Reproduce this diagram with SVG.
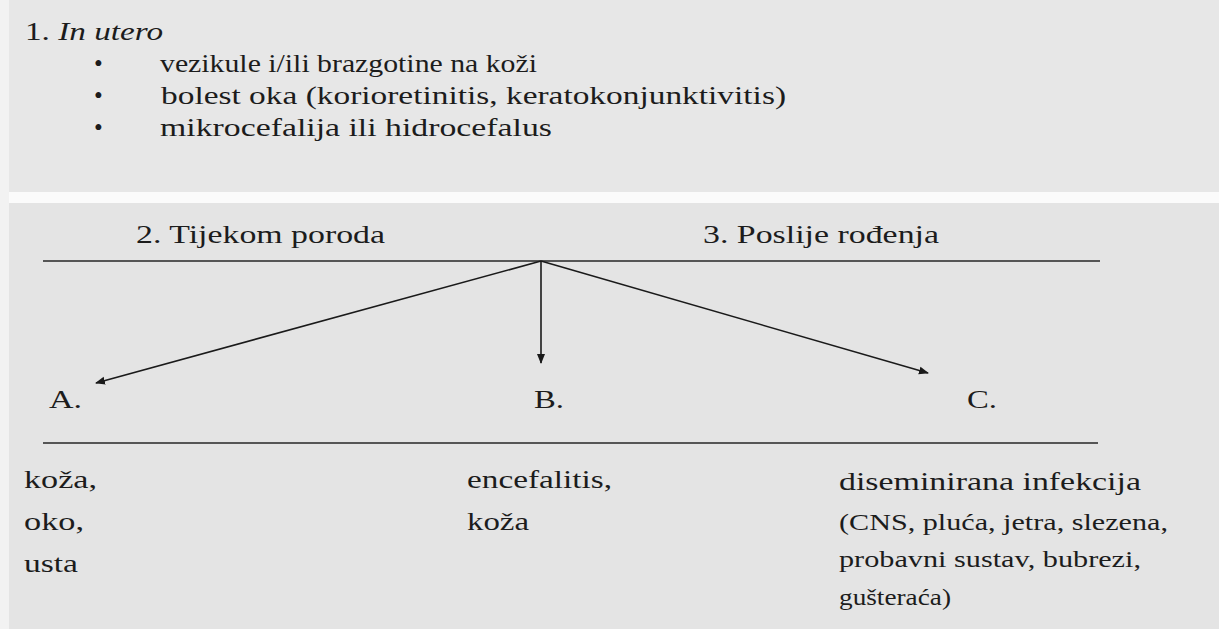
<svg xmlns="http://www.w3.org/2000/svg" width="1219" height="629" viewBox="0 0 1219 629">
<defs>
<marker id="ah" viewBox="0 0 10 10" refX="9" refY="5" markerWidth="10" markerHeight="10" markerUnits="userSpaceOnUse" orient="auto">
<path d="M0,1 L10,5 L0,9 z" fill="#1a1a1a"/>
</marker>
</defs>
<style>
text{font-family:"Liberation Serif","Times New Roman",Tinos,"Noto Serif","DejaVu Serif",FreeSerif,Times,serif;fill:#1c1c1c;font-size:26px}
.top{font-size:25px}
.sm{font-size:23px}
.rule{stroke:#555;stroke-width:2}
.conn{stroke:#1a1a1a;stroke-width:1.6;fill:none}
</style>
<rect x="0" y="0" width="1219" height="629" fill="#e4e4e4"/>
<rect x="0" y="0" width="1219" height="193" fill="#e7e7e7"/>
<rect x="0" y="192" width="1219" height="11" fill="#fbfbfb"/>
<rect x="0" y="0" width="9" height="629" fill="#f2f2f2"/>
<g id="node-utero">
<text class="top" x="25" y="40" textLength="138" lengthAdjust="spacingAndGlyphs">1. <tspan font-style="italic">In utero</tspan></text>
<text class="top" x="94" y="72">•</text>
<text class="top" x="160" y="72" textLength="377" lengthAdjust="spacingAndGlyphs">vezikule i/ili brazgotine na koži</text>
<text class="top" x="94" y="104">•</text>
<text class="top" x="161" y="104" textLength="625" lengthAdjust="spacingAndGlyphs">bolest oka (korioretinitis, keratokonjunktivitis)</text>
<text class="top" x="94" y="136">•</text>
<text class="top" x="160" y="136" textLength="392" lengthAdjust="spacingAndGlyphs">mikrocefalija ili hidrocefalus</text>
</g>
<g id="node-header">
<text x="136" y="243" textLength="249" lengthAdjust="spacingAndGlyphs">2. Tijekom poroda</text>
<text x="703" y="243" textLength="236" lengthAdjust="spacingAndGlyphs">3. Poslije rođenja</text>
<line class="rule" x1="43" y1="261" x2="1100" y2="261"/>
</g>
<g id="node-A"><text x="49" y="408" textLength="33" lengthAdjust="spacingAndGlyphs">A.</text></g>
<g id="node-B"><text x="534" y="408" textLength="30" lengthAdjust="spacingAndGlyphs">B.</text></g>
<g id="node-C"><text x="967" y="408" textLength="30" lengthAdjust="spacingAndGlyphs">C.</text></g>
<line class="rule" x1="43" y1="443" x2="1098" y2="443"/>
<g id="node-A-list">
<text x="24" y="488" textLength="73" lengthAdjust="spacingAndGlyphs">koža,</text>
<text x="24" y="530" textLength="60" lengthAdjust="spacingAndGlyphs">oko,</text>
<text x="24" y="572" textLength="54" lengthAdjust="spacingAndGlyphs">usta</text>
</g>
<g id="node-B-list">
<text x="467" y="488" textLength="145" lengthAdjust="spacingAndGlyphs">encefalitis,</text>
<text x="467" y="530" textLength="62" lengthAdjust="spacingAndGlyphs">koža</text>
</g>
<g id="node-C-list">
<text x="839" y="490" textLength="302" lengthAdjust="spacingAndGlyphs">diseminirana infekcija</text>
<text class="sm" x="839" y="530" textLength="329" lengthAdjust="spacingAndGlyphs">(CNS, pluća, jetra, slezena,</text>
<text class="sm" x="839" y="567" textLength="302" lengthAdjust="spacingAndGlyphs">probavni sustav, bubrezi,</text>
<text class="sm" x="839" y="605" textLength="112" lengthAdjust="spacingAndGlyphs">gušteraća)</text>
</g>
<g id="connectors">
<line class="conn" x1="541" y1="261" x2="96" y2="383" marker-end="url(#ah)"/>
<line class="conn" x1="541" y1="261" x2="541" y2="363" marker-end="url(#ah)"/>
<line class="conn" x1="541" y1="261" x2="928" y2="373" marker-end="url(#ah)"/>
</g>
</svg>
